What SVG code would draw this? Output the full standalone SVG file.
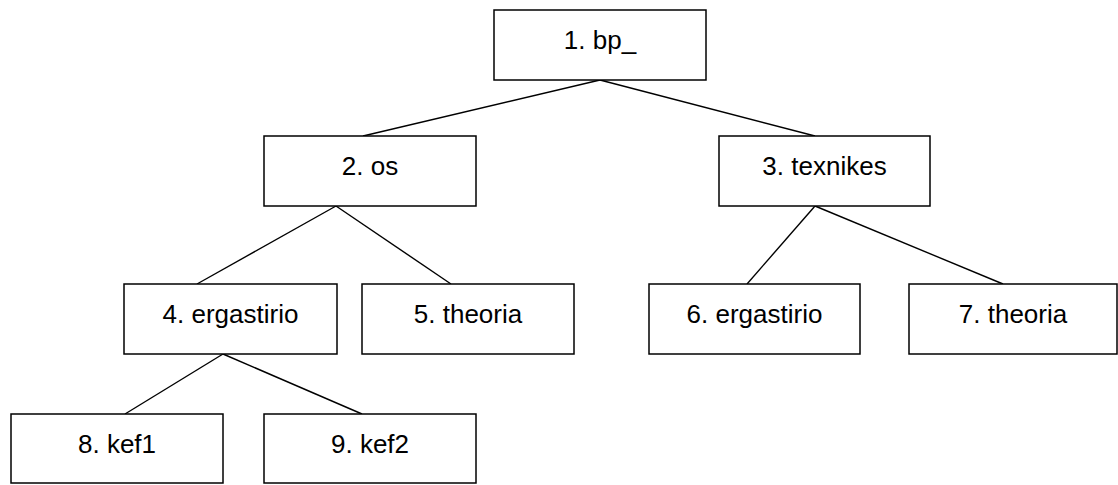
<svg xmlns="http://www.w3.org/2000/svg" width="1118" height="485" viewBox="0 0 1118 485">
<style>
.box{fill:#fff;stroke:#000;stroke-width:1.5}
.lbl{font-family:"Liberation Sans",Arial,sans-serif;font-size:26px;fill:#000;text-anchor:middle}
.c{stroke:#000;stroke-width:1.4;fill:none}
</style>
<rect width="1118" height="485" fill="#fff"/>
<g id="connectors">
<line class="c" x1="600" y1="80" x2="363" y2="136"/>
<line class="c" x1="600" y1="80" x2="815" y2="136"/>
<line class="c" x1="336" y1="206" x2="197" y2="284"/>
<line class="c" x1="336" y1="206" x2="451" y2="284"/>
<line class="c" x1="815" y1="206" x2="747" y2="284"/>
<line class="c" x1="815" y1="206" x2="1003" y2="284"/>
<line class="c" x1="223" y1="354" x2="125" y2="414"/>
<line class="c" x1="223" y1="354" x2="362" y2="414"/>
</g>
<g id="n1"><rect class="box" x="494" y="10" width="212" height="70"/><text class="lbl" x="600" y="49">1. bp_</text></g>
<g id="n2"><rect class="box" x="264" y="136" width="212" height="70"/><text class="lbl" x="370" y="175">2. os</text></g>
<g id="n3"><rect class="box" x="719" y="136" width="211" height="70"/><text class="lbl" x="824.5" y="175">3. texnikes</text></g>
<g id="n4"><rect class="box" x="124" y="284" width="213" height="70"/><text class="lbl" x="230.5" y="323">4. ergastirio</text></g>
<g id="n5"><rect class="box" x="362" y="284" width="212" height="70"/><text class="lbl" x="468" y="323">5. theoria</text></g>
<g id="n6"><rect class="box" x="649" y="284" width="211" height="70"/><text class="lbl" x="754.5" y="323">6. ergastirio</text></g>
<g id="n7"><rect class="box" x="909" y="284" width="208" height="70"/><text class="lbl" x="1013" y="323">7. theoria</text></g>
<g id="n8"><rect class="box" x="11" y="414" width="212" height="69"/><text class="lbl" x="117" y="453">8. kef1</text></g>
<g id="n9"><rect class="box" x="264" y="414" width="212" height="69"/><text class="lbl" x="370" y="453">9. kef2</text></g>
</svg>
